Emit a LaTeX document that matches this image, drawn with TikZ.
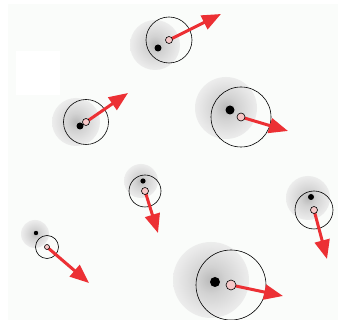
\documentclass[tikz,border=0pt]{standalone}
\usetikzlibrary{arrows.meta}
\definecolor{bgc}{RGB}{250,252,250}
\definecolor{vecred}{RGB}{236,48,52}
\definecolor{pinkfill}{RGB}{246,200,200}
\definecolor{blobA}{RGB}{185,185,185}
\definecolor{blobB}{RGB}{210,210,210}
\definecolor{blobC}{RGB}{232,232,232}
\pgfdeclareradialshading{blob}{\pgfpoint{0bp}{0bp}}{color(0bp)=(blobA); color(9bp)=(blobB); color(22bp)=(blobC); color(35bp)=(bgc); color(50bp)=(bgc)}
\tikzset{
  ring/.style={draw=black, line width=0.6pt, fill=none},
  core/.style={fill=black},
  vec/.style={draw=vecred, line width=3pt, -{Triangle[length=19pt, width=15pt]}},
  small/.style={circle, draw=black, line width=0.6pt, fill=pinkfill, inner sep=0pt, minimum size=7pt},
}
\begin{document}
\begin{tikzpicture}[x=1pt, y=-1pt]
\useasboundingbox (0,0) rectangle (338,320);
\fill[bgc] (8,4) rectangle (338,320);
\fill[white] (16,51) rectangle (60,95);
% centres of small circles (p), tips (t)
\coordinate (p1) at (169,40);  \coordinate (t1) at (221,14);
\coordinate (p2) at (86,122);  \coordinate (t2) at (128,93);
\coordinate (p3) at (241,117); \coordinate (t3) at (288,131);
\coordinate (p4) at (145,191); \coordinate (t4) at (158,233);
\coordinate (p5) at (314,210); \coordinate (t5) at (327,259);
\coordinate (p6) at (47,247);  \coordinate (t6) at (89,283);
\coordinate (p7) at (231,285); \coordinate (t7) at (283,296);
% blobs
\shade[shading=blob] (155,45) circle (25);
\shade[shading=blob] (76,122) circle (24);
\shade[shading=blob] (226,108) circle (31);
\shade[shading=blob] (141,181) circle (17);
\shade[shading=blob] (308,198) circle (22);
\shade[shading=blob] (35,234) circle (14);
\shade[shading=blob] (211,280) circle (38);
% rings
\draw[ring] (p1) circle (23);
\draw[ring] (p2) circle (22.5);
\draw[ring] (p3) circle (30);
\draw[ring] (p4) circle (16);
\draw[ring] (p5) circle (19);
\draw[ring] (p6) circle (11.5);
\draw[ring] (p7) circle (35);
% dark cores
\fill[core] (158,48) circle (3.5);
\fill[core] (80,126) circle (3.5);
\fill[core] (230,110) circle (4.5);
\fill[core] (143,181) circle (2.6);
\fill[core] (311,197) circle (3);
\fill[core] (36,233) circle (2.2);
\fill[core] (215,282) circle (5);
% vectors
\draw[vec] (p1) -- (t1);
\draw[vec] (p2) -- (t2);
\draw[vec] (p3) -- (t3);
\draw[vec] (p4) -- (t4);
\draw[vec] (p5) -- (t5);
\draw[vec] (p6) -- (t6);
\draw[vec] (p7) -- (t7);
% small circles
\node[small] (s1) at (p1) {};
\node[small] (s2) at (p2) {};
\node[small, minimum size=8pt] (s3) at (p3) {};
\node[small] (s4) at (p4) {};
\node[small] (s5) at (p5) {};
\node[small, minimum size=5pt] (s6) at (p6) {};
\node[small, minimum size=10pt] (s7) at (p7) {};
\end{tikzpicture}
\end{document}
